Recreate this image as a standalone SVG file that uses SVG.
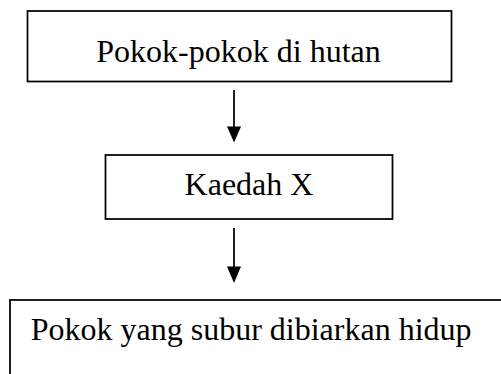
<svg xmlns="http://www.w3.org/2000/svg" width="501" height="374" viewBox="0 0 501 374">
<style>
.box{fill:#fff;stroke:#000;stroke-width:1.75}
.t{font-family:"Liberation Serif","Times New Roman",serif;font-size:32px;fill:#000}
.ln{stroke:#000;stroke-width:1.75;fill:none}
.hd{fill:#000}
</style>
<rect width="501" height="374" fill="#fff"/>
<g id="node1">
<rect class="box" x="27.5" y="11" width="424" height="70.5"/>
<text class="t" x="238.5" y="61.5" text-anchor="middle">Pokok-pokok di hutan</text>
</g>
<g id="node2">
<rect class="box" x="105.5" y="155" width="287" height="64"/>
<text class="t" x="249" y="195" text-anchor="middle">Kaedah X</text>
</g>
<g id="node3">
<rect class="box" x="10" y="300" width="510" height="100"/>
<text class="t" x="30.7" y="340">Pokok yang subur dibiarkan hidup</text>
</g>
<g id="connectors">
<line class="ln" x1="234" y1="90" x2="234" y2="128"/>
<polygon class="hd" points="227,126.5 241,126.5 234,142.5"/>
<line class="ln" x1="234" y1="228" x2="234" y2="268"/>
<polygon class="hd" points="227,266.5 241,266.5 234,283"/>
</g>
</svg>
